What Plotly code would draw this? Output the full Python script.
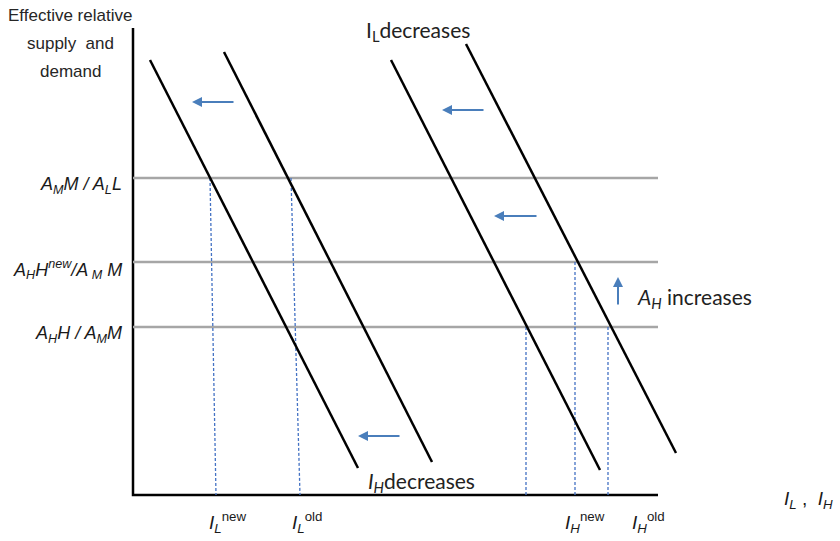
import plotly.graph_objects as go

# Schematic coordinates (pixel-like units, y grows downward)
demand_lines = {
    "L_new": [(150, 60), (358, 468)],
    "L_old": [(224, 52), (432, 462)],
    "H_new": [(391, 60), (600, 470)],
    "H_old": [(466, 44), (676, 453)],
}
level_names = ["A_M M / A_L L", "A_H H_new / A_M M", "A_H H / A_M M"]
level_y = [178, 262, 327]
level_labels = [
    "<i>A<sub>M</sub>M / A<sub>L</sub>L</i>",
    "<i>A<sub>H</sub>H<sup>new</sup>/A<sub> M</sub> M</i>",
    "<i>A<sub>H</sub>H / A<sub>M</sub>M</i>",
]
title_lines = ["Effective relative", "supply  and", "demand"]
title_line_y = [15, 43, 71]
drop_top = [(210, 178), (291, 178), (526, 327), (575, 262), (608, 327)]
drop_bottom_x = [216, 300, 526, 575, 608]
tick_labels = ["<i>I<sub>L</sub></i><sup>new</sup>", "<i>I<sub>L</sub></i><sup>old</sup>",
               "<i>I<sub>H</sub></i><sup>new</sup>", "<i>I<sub>H</sub></i><sup>old</sup>"]
tick_x = [227, 307, 585, 648]
shift_arrows = [((235, 102), (192, 102)), ((485, 110), (442, 110)),
                ((538, 216), (494, 216)), ((401, 436), (358, 436))]

origin = (133, 495)
x_end = 658
y_top = 28
blue = "#4a7ebb"

fig = go.Figure()
# axes
fig.add_trace(go.Scatter(x=[origin[0], origin[0], x_end], y=[y_top, origin[1], origin[1]],
                         mode="lines", line=dict(color="black", width=2.5), hoverinfo="skip"))
# horizontal levels
for y in level_y:
    fig.add_trace(go.Scatter(x=[origin[0], x_end], y=[y, y], mode="lines",
                             line=dict(color="#a6a6a6", width=2.5), hoverinfo="skip"))
# dashed drops
for (xt, yt), xb in zip(drop_top, drop_bottom_x):
    fig.add_trace(go.Scatter(x=[xt, xb], y=[yt, origin[1]], mode="lines",
                             line=dict(color="#4472c4", width=1.3, dash="3px,2px"), hoverinfo="skip"))
# demand lines
for name, pts in demand_lines.items():
    fig.add_trace(go.Scatter(x=[p[0] for p in pts], y=[p[1] for p in pts], mode="lines",
                             line=dict(color="black", width=2.5), hoverinfo="skip"))

ann = []
for (s, e) in shift_arrows:
    ann.append(dict(x=e[0], y=e[1], ax=s[0], ay=s[1], xref="x", yref="y", axref="x", ayref="y",
                    showarrow=True, arrowhead=2, arrowsize=1, arrowwidth=2, arrowcolor=blue, text=""))
ann.append(dict(x=618, y=277, ax=618, ay=306, xref="x", yref="y", axref="x", ayref="y",
                showarrow=True, arrowhead=2, arrowsize=1, arrowwidth=2, arrowcolor=blue, text=""))

lab_font = dict(family="Liberation Sans, Arial", size=18, color="#1a1a1a")
for y, t in zip(level_y, level_labels):
    ann.append(dict(x=124, y=y + 7, text=t, showarrow=False, xanchor="right", yanchor="middle",
                    font=lab_font))
for y, t in zip(title_line_y, title_lines):
    ann.append(dict(x=70, y=y, text=t, showarrow=False, xanchor="center", yanchor="middle",
                    font=dict(family="Liberation Sans, Arial", size=17, color="#262626")))
for x, t in zip(tick_x, tick_labels):
    ann.append(dict(x=x, y=522, text=t, showarrow=False, xanchor="center", yanchor="middle",
                    font=dict(family="Liberation Sans, Arial", size=19, color="#1a1a1a")))
ann.append(dict(x=808, y=500, text="<i>I<sub>L</sub></i> ,  <i>I<sub>H</sub></i>", showarrow=False,
                xanchor="center", yanchor="middle",
                font=dict(family="Liberation Sans, Arial", size=19, color="#1a1a1a")))
cal = dict(family="Lato, Open Sans", size=21, color="#222222")
ann.append(dict(x=418, y=31, text="I<sub>L</sub>decreases", showarrow=False, xanchor="center",
                yanchor="middle", font=cal))
ann.append(dict(x=421, y=482, text="<i>I<sub>H</sub></i>decreases", showarrow=False, xanchor="center",
                yanchor="middle", font=cal))
ann.append(dict(x=635, y=298, text="<i>A<sub>H</sub></i> increases", showarrow=False, xanchor="left",
                yanchor="middle", font=cal))

fig.update_layout(
    width=840, height=541, margin=dict(l=0, r=0, t=0, b=0),
    paper_bgcolor="white", plot_bgcolor="white", showlegend=False,
    xaxis=dict(range=[0, 840], visible=False, fixedrange=True),
    yaxis=dict(range=[541, 0], visible=False, fixedrange=True),
    annotations=ann,
)
fig.write_html("out.html")
